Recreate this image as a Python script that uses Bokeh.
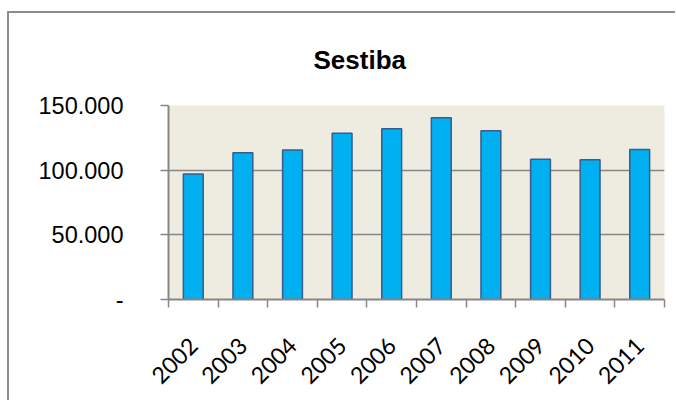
import math
from bokeh.plotting import figure
from bokeh.models import FixedTicker, Range1d
from bokeh.embed import file_html
from bokeh.resources import INLINE

# ---- data ----
years = ["2002", "2003", "2004", "2005", "2006", "2007", "2008", "2009", "2010", "2011"]
values = [97000, 113500, 115500, 128500, 132000, 140500, 130500, 108500, 108000, 116000]
y_ticks = [0, 50000, 100000, 150000]
y_tick_labels = ["-", "50.000", "100.000", "150.000"]
title_text = "Sestiba"

centers = [i + 0.5 for i in range(len(years))]
boundaries = list(range(len(years) + 1))

GRAY = "#868686"

p = figure(width=668, height=389,
           x_range=Range1d(0, len(years)), y_range=Range1d(y_ticks[0], y_ticks[-1]),
           output_backend="svg", toolbar_location=None,
           min_border_left=161, min_border_right=11, min_border_top=94, min_border_bottom=101)

p.styles = {"box-shadow": "inset 2px 2px 0 0 #8c8c8c", "background-color": "white",
            "margin-top": "11px", "margin-left": "7px"}

p.background_fill_color = "#EEECE1"
p.border_fill_color = None
p.outline_line_color = None

p.vbar(x=centers, top=values, width=0.4, bottom=0,
       fill_color="#00B0F0", line_color="#385D8A", line_width=1.5)

# title
p.title.text = title_text
p.title.text_font = "Liberation Sans"
p.title.text_font_style = "bold"
p.title.text_font_size = "26px"
p.title.text_color = "black"
p.title.align = "left"
p.title.offset = 145
p.title.standoff = 61
p.title.border_line_color = None
p.title.background_fill_color = None

# x axis: labels at centers, ticks at boundaries
xt = FixedTicker(ticks=centers, minor_ticks=boundaries)
xa = p.xaxis[0]
xa.ticker = xt
xa.major_label_overrides = {c: y for c, y in zip(centers, years)}
xa.major_label_orientation = math.pi / 4
xa.major_tick_line_color = None
xa.minor_tick_in = 0
xa.minor_tick_out = 8
xa.minor_tick_line_color = GRAY
xa.minor_tick_line_width = 1.5
xa.axis_line_color = GRAY
xa.axis_line_width = 2
xa.major_label_text_font = "Lato"
xa.major_label_text_font_size = "23px"
xa.major_label_text_color = "black"
xa.major_label_standoff = 34
p.xgrid.visible = False

# y axis
yt = FixedTicker(ticks=y_ticks, minor_ticks=[])
ya = p.yaxis[0]
ya.ticker = yt
ya.major_label_overrides = {t: l for t, l in zip(y_ticks, y_tick_labels)}
ya.major_tick_in = 0
ya.major_tick_out = 8
ya.major_tick_line_color = GRAY
ya.major_tick_line_width = 1.5
ya.minor_tick_line_color = None
ya.axis_line_color = GRAY
ya.axis_line_width = 2
ya.major_label_text_font = "Liberation Sans"
ya.major_label_text_font_size = "23.5px"
ya.major_label_text_color = "black"
ya.major_label_standoff = 37
p.ygrid.ticker = yt
p.ygrid.grid_line_color = GRAY
p.ygrid.grid_line_width = 1.5

open("out.html", "w").write(file_html(p, INLINE))
